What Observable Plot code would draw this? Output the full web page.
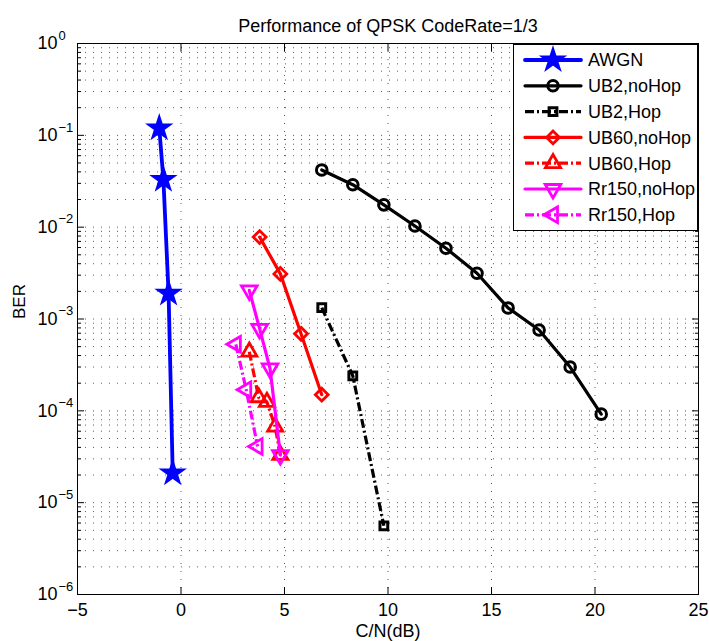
<!DOCTYPE html>
<html><head><meta charset="utf-8">
<script src="https://cdn.jsdelivr.net/npm/d3@7"></script>
<script src="https://cdn.jsdelivr.net/npm/@observablehq/plot@0.6"></script>
<style>
html,body{margin:0;padding:0;background:#fff;}
#chart{width:709px;height:641px;}
</style></head><body><div id="chart"></div>
<script>
// ---- text ----
const titleText = "Performance of QPSK CodeRate=1/3";
const xLabel = "C/N(dB)";
const yLabel = "BER";
const xTicks = [-5, 0, 5, 10, 15, 20, 25];
const yExponents = [-6, -5, -4, -3, -2, -1, 0];
const seriesNames = ["AWGN", "UB2,noHop", "UB2,Hop", "UB60,noHop", "UB60,Hop", "Rr150,noHop", "Rr150,Hop"];

// ---- data (C/N dB, BER) ----
const awgnX = [-1.05, -0.85, -0.6, -0.4];
const awgnY = [0.12, 0.033, 1.9e-3, 2.1e-5];
const ub2NoHopX = [6.8, 8.3, 9.8, 11.3, 12.8, 14.3, 15.8, 17.3, 18.8, 20.3];
const ub2NoHopY = [0.042, 0.029, 0.0175, 0.0103, 5.9e-3, 3.15e-3, 1.32e-3, 7.6e-4, 3.0e-4, 9.2e-5];
const ub2HopX = [6.8, 8.3, 9.8];
const ub2HopY = [1.33e-3, 2.4e-4, 5.6e-6];
const ub60NoHopX = [3.8, 4.8, 5.8, 6.8];
const ub60NoHopY = [7.8e-3, 3.1e-3, 6.9e-4, 1.5e-4];
const ub60HopX = [3.3, 3.75, 4.15, 4.55, 4.8];
const ub60HopY = [4.4e-4, 1.4e-4, 1.25e-4, 6.7e-5, 3.3e-5];
const rr150NoHopX = [3.3, 3.8, 4.3, 4.8];
const rr150NoHopY = [2.05e-3, 7.8e-4, 2.9e-4, 3.3e-5];
const rr150HopX = [2.65, 3.15, 3.7];
const rr150HopY = [5.3e-4, 1.7e-4, 4.1e-5];

// ---- styles ----
const DASHDOT = "9,3,2,3";
const styles = [
  {color: "#0000ff", symbol: "star", r: 7.2, fill: "#0000ff", rotate: 0, dash: null, sw: 3.8, msw: 1.8},
  {color: "#000000", symbol: "circle", r: 5.3, fill: "none", rotate: 0, dash: null, sw: 3.2, msw: 3},
  {color: "#000000", symbol: "square", r: 4.4, fill: "none", rotate: 0, dash: DASHDOT, sw: 3.2, msw: 3},
  {color: "#ff0000", symbol: "diamond2", r: 5.8, fill: "none", rotate: 0, dash: null, sw: 3.2, msw: 2.8},
  {color: "#ff0000", symbol: "triangle", r: 5.6, fill: "none", rotate: 0, dash: DASHDOT, sw: 3.2, msw: 2.8},
  {color: "#ff00ff", symbol: "triangle", r: 5.8, fill: "none", rotate: 180, dash: null, sw: 3.2, msw: 2.8},
  {color: "#ff00ff", symbol: "triangle", r: 5.8, fill: "none", rotate: -90, dash: DASHDOT, sw: 3.2, msw: 2.8}
];
const xs = [awgnX, ub2NoHopX, ub2HopX, ub60NoHopX, ub60HopX, rr150NoHopX, rr150HopX];
const ys = [awgnY, ub2NoHopY, ub2HopY, ub60NoHopY, ub60HopY, rr150NoHopY, rr150HopY];

const series = seriesNames.map((name, k) => ({
  name, style: styles[k],
  rows: xs[k].map((x, i) => ({series: name, x, y: ys[k][i]}))
}));

// grid / tick positions
const yMajor = yExponents.map(e => Math.pow(10, e));
const yMinor = [];
for (const e of yExponents.slice(0, -1)) for (let m = 2; m <= 9; m++) yMinor.push(m * Math.pow(10, e));
const gridStyle = {stroke: "#000", strokeOpacity: 0.65, strokeDasharray: "1,7", strokeWidth: 1};
const fmtX = d => d < 0 ? "\u2212" + (-d) : String(d);

const marks = [
  Plot.gridX({ticks: xTicks, ...gridStyle}),
  Plot.gridY({ticks: yMajor.concat(yMinor), ...gridStyle}),
  Plot.axisX({anchor: "bottom", ticks: xTicks, tickSize: -7, tickFormat: () => "", label: null}),
  Plot.axisX({anchor: "top", ticks: xTicks, tickSize: -7, tickFormat: () => "", label: null}),
  Plot.axisY({anchor: "left", ticks: yMajor, tickSize: -7, tickFormat: () => "", label: null}),
  Plot.axisY({anchor: "left", ticks: yMinor, tickSize: -4, tickFormat: () => "", label: null}),
  Plot.axisY({anchor: "right", ticks: yMajor, tickSize: -7, tickFormat: () => "", label: null}),
  Plot.axisY({anchor: "right", ticks: yMinor, tickSize: -4, tickFormat: () => "", label: null}),
  Plot.text(xTicks, {x: d => d, frameAnchor: "bottom", text: fmtX, dy: 16, lineAnchor: "middle", fontSize: 18}),
  Plot.text(yExponents, {frameAnchor: "left", y: e => Math.pow(10, e), text: () => "10", textAnchor: "end", dx: -20, fontSize: 18}),
  Plot.text(yExponents, {frameAnchor: "left", y: e => Math.pow(10, e), text: e => e < 0 ? "\u2212" + (-e) : String(e), textAnchor: "start", dx: -19, dy: -8, fontSize: 13}),
  Plot.text([titleText], {frameAnchor: "top", text: d => d, dy: -24, fontSize: 18}),
  Plot.text([xLabel], {frameAnchor: "bottom", text: d => d, dy: 37, lineAnchor: "middle", fontSize: 18}),
  Plot.text([yLabel], {frameAnchor: "left", text: d => d, dx: -58, rotate: -90, fontSize: 17})
];
for (const s of series) {
  const st = s.style;
  marks.push(Plot.line(s.rows, {x: "x", y: "y", stroke: st.color, strokeWidth: st.sw,
    strokeDasharray: st.dash, strokeLinecap: st.dash ? "butt" : "round"}));
  marks.push(Plot.dot(s.rows, {x: "x", y: "y", symbol: st.symbol, r: st.r, stroke: st.color,
    fill: st.fill, strokeWidth: st.msw, rotate: st.rotate}));
}
marks.push(Plot.frame({stroke: "#000", strokeWidth: 1}));

const chart = Plot.plot({
  width: 709, height: 641,
  marginLeft: 77, marginRight: 11, marginTop: 43, marginBottom: 47,
  style: {fontFamily: "'Liberation Sans', Arial, sans-serif", fontSize: "18px", background: "#fff", color: "#000"},
  x: {domain: [-5, 25]},
  y: {type: "log", domain: [1e-6, 1]},
  marks
});
document.getElementById("chart").appendChild(chart);

// ---- legend (inside the axes, top-right) ----
const svg = d3.select(chart);
const lg = svg.append("g").attr("class", "legend").attr("text-anchor", "start");
const lx = 513.5, ly = 44.5, lw = 184, lh = 186, rowH = 25.8, row0 = 60;
lg.append("rect").attr("x", lx).attr("y", ly).attr("width", lw).attr("height", lh)
  .attr("fill", "#fff").attr("stroke", "#000").attr("stroke-width", 1);
const symMap = {star: d3.symbolStar, circle: d3.symbolCircle, square: d3.symbolSquare, diamond2: d3.symbolDiamond2, triangle: d3.symbolTriangle};
series.forEach((s, i) => {
  const st = s.style, y = row0 + i * rowH;
  lg.append("line").attr("x1", 525).attr("x2", 581).attr("y1", y).attr("y2", y)
    .attr("stroke", st.color).attr("stroke-width", st.sw)
    .attr("stroke-dasharray", st.dash).attr("stroke-linecap", st.dash ? "butt" : "round");
  lg.append("path").attr("d", d3.symbol(symMap[st.symbol], Math.PI * st.r * st.r)())
    .attr("transform", `translate(553,${y}) rotate(${st.rotate})`)
    .attr("fill", st.fill).attr("stroke", st.color).attr("stroke-width", st.msw);
  lg.append("text").attr("x", 588).attr("y", y).attr("dy", "0.36em").attr("text-anchor", "start")
    .attr("font-size", 18).attr("fill", "#000").text(s.name);
});
</script></body></html>
